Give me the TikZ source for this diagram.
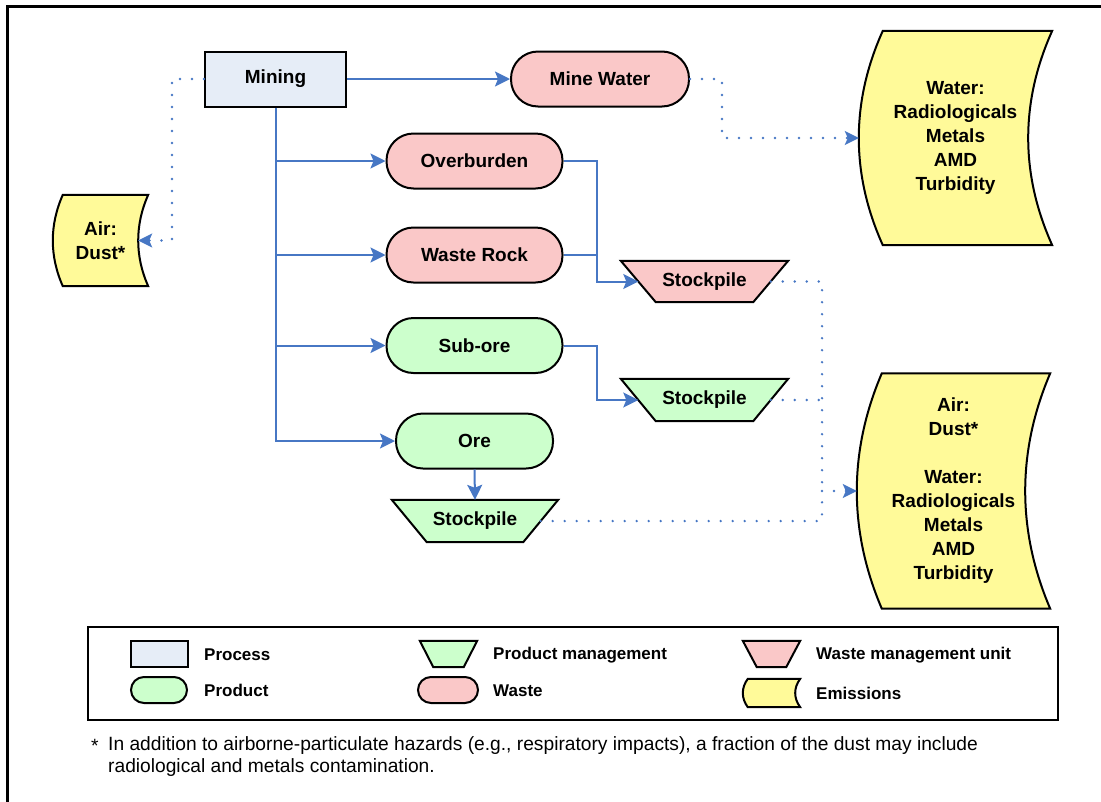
\documentclass[tikz,border=0pt]{standalone}
\usepackage{fontspec}
\setmainfont{Liberation Sans}
\usetikzlibrary{arrows.meta,backgrounds}

\definecolor{procfill}{RGB}{230,237,247}
\definecolor{wastefill}{RGB}{250,200,200}
\definecolor{prodfill}{RGB}{204,255,204}
\definecolor{emisfill}{RGB}{255,250,153}
\definecolor{flowblue}{RGB}{71,119,196}

\tikzset{
  box/.style={draw=black, line width=2pt, align=center, inner sep=0pt,
    font=\bfseries\fontsize{19}{24}\selectfont},
  procbox/.style={box, rectangle, fill=procfill},
  stadium/.style={box, rectangle, rounded corners=27pt,
    minimum width=176pt, minimum height=55pt},
  wastebox/.style={stadium, fill=wastefill},
  prodbox/.style={stadium, fill=prodfill},
  plain/.style={align=center, inner sep=0pt,
    font=\bfseries\fontsize{19}{24}\selectfont},
  pilebox/.style={plain, minimum width=166pt, minimum height=42pt},
  flowline/.style={draw=flowblue, line width=2pt},
  flow/.style={flowline, -{Stealth[length=15pt,width=15pt,inset=3pt]}},
  dotline/.style={draw=flowblue, line width=2.6pt, line cap=round,
    dash pattern=on 0pt off 12pt},
  dottip/.style={draw=flowblue, line width=2pt,
    -{Stealth[length=14pt,width=14pt,inset=3pt]}},
  legtext/.style={anchor=base west, inner sep=0pt,
    font=\bfseries\fontsize{17}{20}\selectfont},
  foottext/.style={anchor=base west, inner sep=0pt,
    font=\fontsize{19.2}{22}\selectfont},
}

% emission outline: node name, side inset, one third of the height
\newcommand\emisoutline[3]{%
  \draw[line width=2pt, fill=emisfill, line join=miter]
    ([xshift=#2]#1.north west) -- (#1.north east)
    .. controls +({-4*#2/3},-#3) and +({-4*#2/3},#3) .. (#1.south east)
    -- ([xshift=#2]#1.south west)
    .. controls +({-4*#2/3},#3) and +({-4*#2/3},-#3) .. ([xshift=#2]#1.north west)
    -- cycle;}
% stockpile outline: node name, horizontal run of the slanted sides, fill
\newcommand\pileoutline[3]{%
  \draw[line width=2pt, fill=#3, line join=miter]
    (#1.north west) -- (#1.north east) -- ([xshift=-#2]#1.south east)
    -- ([xshift=#2]#1.south west) -- cycle;}

\begin{document}
\begin{tikzpicture}[x=1pt,y=-1pt]
\useasboundingbox (0,0) rectangle (1101,801);
\clip (0,0) rectangle (1101,801);
\draw[line width=3pt] (7.5,6.5) rectangle (1200,900);

% process and its outputs
\node[procbox, minimum width=141pt, minimum height=55pt] (mining) at (275.5,79) {Mining};
\node[wastebox, minimum width=178pt] (minewater) at (600,79) {Mine Water};
\node[wastebox] (overburden) at (474.5,161) {Overburden};
\node[wastebox] (wasterock) at (474.5,255) {Waste Rock};
\node[prodbox] (subore) at (474.5,345.5) {Sub-ore};
\node[prodbox, minimum width=157pt] (ore) at (474.5,441) {Ore};

% stockpiles
\node[pilebox, minimum width=167pt, minimum height=41pt] (wastepile) at (704.5,281.5) {Stockpile};
\node[pilebox, minimum width=167pt] (subpile) at (704.5,400) {Stockpile};
\node[pilebox] (orepile) at (475,521) {Stockpile};

% emissions
\node[plain, minimum width=95pt, minimum height=91pt] (air) at (100.5,240.5) {Air:\\Dust*};
\node[plain, minimum width=193pt, minimum height=214pt] (wateremis) at (955.5,138)
  {Water:\\Radiologicals\\Metals\\AMD\\Turbidity};
\node[plain, minimum width=193pt, minimum height=235pt] (lowemis) at (953.5,491)
  {Air:\\Dust*\\[24pt]Water:\\Radiologicals\\Metals\\AMD\\Turbidity};

% legend
\node[draw=black, line width=2.5pt, minimum width=970pt, minimum height=93pt] (legend) at (573,673.5) {};
\node[procbox, minimum width=57pt, minimum height=26pt] (lgproc) at (159.5,654) {};
\node[prodbox, rounded corners=13pt, minimum width=56pt, minimum height=26pt] (lgprod) at (159,690) {};
\node[plain, minimum width=57pt, minimum height=26pt] (lgprodpile) at (448.5,654) {};
\node[wastebox, rounded corners=13pt, minimum width=60pt, minimum height=26pt] (lgwaste) at (448,690) {};
\node[plain, minimum width=57pt, minimum height=26pt] (lgwastepile) at (771.5,654) {};
\node[plain, minimum width=57pt, minimum height=28pt] (lgemis) at (771.5,693) {};

\node[legtext] (tproc) at (204,660) {Process};
\node[legtext] (tprod) at (204,696) {Product};
\node[legtext] (tprodpile) at (493,659) {Product management};
\node[legtext] (twaste) at (493,696) {Waste};
\node[legtext] (twastepile) at (816,659) {Waste management unit};
\node[legtext] (temis) at (816,699) {Emissions};

% footnote
\node[foottext] (star) at (91,752) {*};
\node[foottext] (foot1) at (108,750) {In addition to airborne-particulate hazards (e.g., respiratory impacts), a fraction of the dust may include};
\node[foottext] (foot2) at (108,772) {radiological and metals contamination.};

% outlines behind their texts
\begin{pgfonlayer}{background}
  \emisoutline{air}{10pt}{30pt}
  \emisoutline{wateremis}{24pt}{71pt}
  \emisoutline{lowemis}{25pt}{78pt}
  \emisoutline{lgemis}{5pt}{9pt}
  \pileoutline{wastepile}{35pt}{wastefill}
  \pileoutline{subpile}{35pt}{prodfill}
  \pileoutline{orepile}{35pt}{prodfill}
  \pileoutline{lgprodpile}{13.5pt}{prodfill}
  \pileoutline{lgwastepile}{14pt}{wastefill}
\end{pgfonlayer}

% material flows
\draw[flow] (mining.east) -- (minewater.west);
\draw[flow] (mining.south) |- (ore.west);
\draw[flow] (mining.south |- overburden.west) -- (overburden.west);
\draw[flow] (mining.south |- wasterock.west) -- (wasterock.west);
\draw[flow] (mining.south |- subore.west) -- (subore.west);
\coordinate (wastejoin) at (597,161);
\draw[flow] (overburden.east) -- (wastejoin) |- ([xshift=17.5pt]wastepile.west);
\draw[flowline] (wasterock.east) -- (wasterock.east -| wastejoin);
\coordinate (subjoin) at (597,345.5);
\draw[flow] (subore.east) -- (subjoin) |- ([xshift=17.5pt]subpile.west);
\draw[flow] (ore.south) -- (orepile.north);

% emission pathways
\coordinate (airjoin) at (172,240.5);
\draw[dotline] (mining.west) -| (airjoin) -- ([xshift=-8pt]air.east);
\draw[dottip] ([xshift=-6pt]air.east) -- ([xshift=-10pt]air.east);
\coordinate (waterjoin) at (722,138);
\draw[dotline] (minewater.east) -| (waterjoin) -- ([xshift=-3pt]wateremis.west);
\draw[dottip] ([xshift=-4pt]wateremis.west) -- (wateremis.west);
\coordinate (pilejoin) at (822,491);
\draw[dotline] ([xshift=-17.5pt]wastepile.east) -| (pilejoin);
\draw[dotline] ([xshift=-17.5pt]subpile.east) -- (subpile.east -| pilejoin);
\draw[dotline] ([xshift=-17.5pt]orepile.east) -| (pilejoin);
\draw[dotline] (pilejoin) -- ([xshift=-3pt]lowemis.west);
\draw[dottip] ([xshift=-4pt]lowemis.west) -- (lowemis.west);
\end{tikzpicture}
\end{document}
